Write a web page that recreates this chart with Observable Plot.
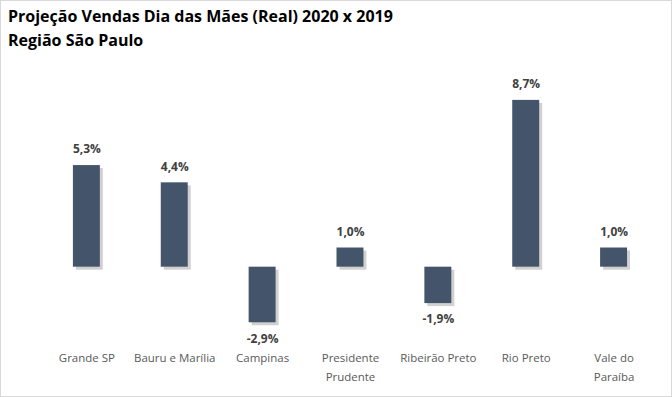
<!DOCTYPE html>
<html>
<head>
<meta charset="utf-8">
<script src="https://cdn.jsdelivr.net/npm/d3@7"></script>
<script src="https://cdn.jsdelivr.net/npm/@observablehq/plot@0.6"></script>
<style>
  html, body { margin: 0; padding: 0; background: #fff; }
  #chart { position: relative; width: 670px; height: 395px; border: 1px solid #d9d9d9; overflow: hidden; font-family: "Open Sans", sans-serif; }
  #title { position: absolute; left: 7px; top: 3px; font-weight: bold; font-size: 16px; line-height: 24px; color: #000; letter-spacing: 0px; }
  #plot { position: absolute; left: -1px; top: 54px; }
</style>
</head>
<body>
<div id="chart">
  <div id="title">Projeção Vendas Dia das Mães (Real) 2020 x 2019<br>Região São Paulo</div>
  <div id="plot"></div>
</div>
<script>
const categories = ["Grande SP", "Bauru e Marília", "Campinas", "Presidente\nPrudente", "Ribeirão Preto", "Rio Preto", "Vale do\nParaíba"];
const values = [5.3, 4.4, -2.9, 1.0, -1.9, 8.7, 1.0];

const data = categories.map((c, i) => ({cat: c, value: values[i]}));
const fmt = v => v.toFixed(1).replace(".", ",") + "%";

const H = 342;
const zeroY = 212;
const ppu = 19.2;

const chart = Plot.plot({
  width: 672,
  height: H,
  marginLeft: 0,
  marginRight: 0,
  marginTop: 0,
  marginBottom: 0,
  style: {fontFamily: "'Open Sans', sans-serif", background: "transparent"},
  x: {domain: categories, range: [42, 660], paddingInner: 0.69, paddingOuter: 0.345, axis: null},
  y: {domain: [-4, 10], range: [zeroY + 4 * ppu, zeroY - 10 * ppu], axis: null},
  marks: [
    Plot.ruleY([0], {x1: 41, x2: 659, stroke: "#d9d9d9", strokeWidth: 1}),
    Plot.barY(data, {x: "cat", y: "value", fill: "#9a9a9a", fillOpacity: 0.45, dx: 3, dy: 3}),
    Plot.barY(data, {x: "cat", y: "value", fill: "#44546A"}),
    Plot.text(data.filter(d => d.value >= 0), {x: "cat", y: "value", text: d => fmt(d.value), dy: -16, fontWeight: "bold", fontSize: 12, fill: "#404040"}),
    Plot.text(data.filter(d => d.value < 0), {x: "cat", y: "value", text: d => fmt(d.value), dy: 16, fontWeight: "bold", fontSize: 12, fill: "#404040"}),
    Plot.text(data, {x: "cat", text: "cat", y: -4, lineAnchor: "top", dy: 4, fontSize: 11.5, fill: "#595959", lineHeight: 1.7})
  ]
});
document.getElementById("plot").appendChild(chart);
</script>
</body>
</html>
